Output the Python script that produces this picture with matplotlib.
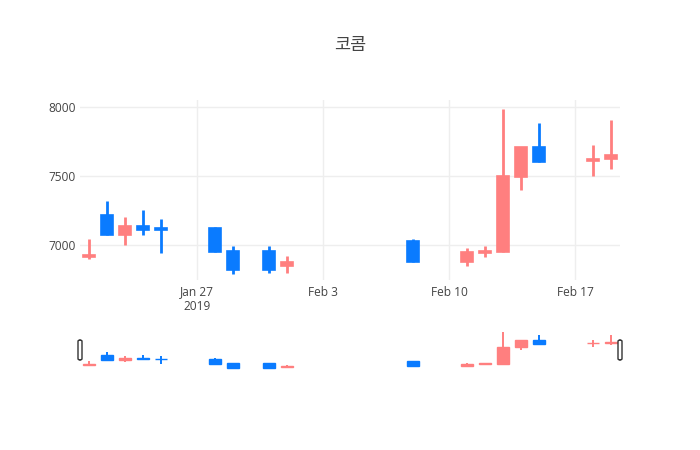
import numpy as np
import pandas as pd
import matplotlib
matplotlib.use("Agg")
import matplotlib.pyplot as plt
import matplotlib.dates as mdates
from matplotlib.patches import FancyBboxPatch

plt.rcParams['font.family'] = ['Open Sans', 'Noto Sans CJK KR', 'DejaVu Sans']

dates = ["2019-01-21", "2019-01-22", "2019-01-23", "2019-01-24", "2019-01-25",
         "2019-01-28", "2019-01-29", "2019-01-31", "2019-02-01", "2019-02-08",
         "2019-02-11", "2019-02-12", "2019-02-13", "2019-02-14", "2019-02-15",
         "2019-02-18", "2019-02-19"]
open_ = [6910, 7220, 7070, 7140, 7120, 7120, 6960, 6960, 6850, 7030,
         6880, 6940, 6950, 7490, 7710, 7610, 7620]
high = [7040, 7320, 7200, 7250, 7190, 7130, 6990, 6990, 6920, 7040,
        6980, 6990, 7980, 7710, 7880, 7720, 7900]
low = [6900, 7070, 7000, 7070, 6940, 6950, 6790, 6800, 6800, 6880,
       6850, 6910, 6950, 7400, 7600, 7500, 7550]
close = [6930, 7070, 7140, 7110, 7110, 6950, 6820, 6820, 6880, 6880,
         6950, 6960, 7500, 7710, 7600, 7620, 7650]

tick_dates = ["2019-01-27", "2019-02-03", "2019-02-10", "2019-02-17"]
tick_labels = ["Jan 27\n2019", "Feb 3", "Feb 10", "Feb 17"]

UP = "#FF7F7F"
DOWN = "#0A7BFF"

x = mdates.date2num(pd.to_datetime(dates))
o = np.array(open_)
c = np.array(close)
hi = np.array(high)
lo = np.array(low)
colors = [UP if cc > oo else DOWN for oo, cc in zip(o, c)]
xmin = x[0] - 0.5
xmax = x[-1] + 0.5
ylim = (6747, 8048)


def candles(ax, wick_lw, body_lw):
    ax.vlines(x, lo, hi, colors=colors, linewidth=wick_lw, zorder=2)
    ax.bar(x, np.abs(c - o), bottom=np.minimum(o, c), width=0.62,
           color=colors, edgecolor=colors, linewidth=body_lw, zorder=3)
    ax.set_xlim(xmin, xmax)
    ax.set_ylim(*ylim)


fig = plt.figure(figsize=(7, 4.5), dpi=100)

# --- main chart ---
ax = fig.add_axes([80 / 700, 1 - 280 / 450, 540 / 700, 180 / 450])
candles(ax, 2.0, 1.2)
for s in ax.spines.values():
    s.set_visible(False)
ax.set_yticks([7000, 7500, 8000])
ax.set_yticklabels(["7000", "7500", "8000"])
ax.set_xticks(mdates.date2num(pd.to_datetime(tick_dates)))
ax.set_xticklabels(tick_labels, linespacing=1.15)
ax.tick_params(length=0, labelsize=8.6, colors="#444444", pad=4)
ax.tick_params(axis="y", pad=3)
ax.grid(True, color="#eeeeee", linewidth=1)
ax.set_axisbelow(True)

fig.text(350 / 700, 1 - 45 / 450, "코콤", ha="center", va="center",
         fontsize=12.6, color="#444444", family=["Noto Sans CJK KR", "DejaVu Sans"])

# --- range slider ---
rs = fig.add_axes([80 / 700, 1 - 370 / 450, 540 / 700, 40 / 450])
candles(rs, 1.4, 1.0)
rs.axis("off")
for hx in (xmin, xmax):
    px = rs.transData.transform((hx, 0))[0] / 700
    handle = FancyBboxPatch((px - 2 / 700, 1 - 360 / 450), 4 / 700, 20 / 450,
                            boxstyle="round,pad=0,rounding_size=0.003",
                            transform=fig.transFigure, facecolor="white",
                            edgecolor="#333333", linewidth=1, zorder=5)
    fig.patches.append(handle)

fig.savefig("out.png", dpi=100)
